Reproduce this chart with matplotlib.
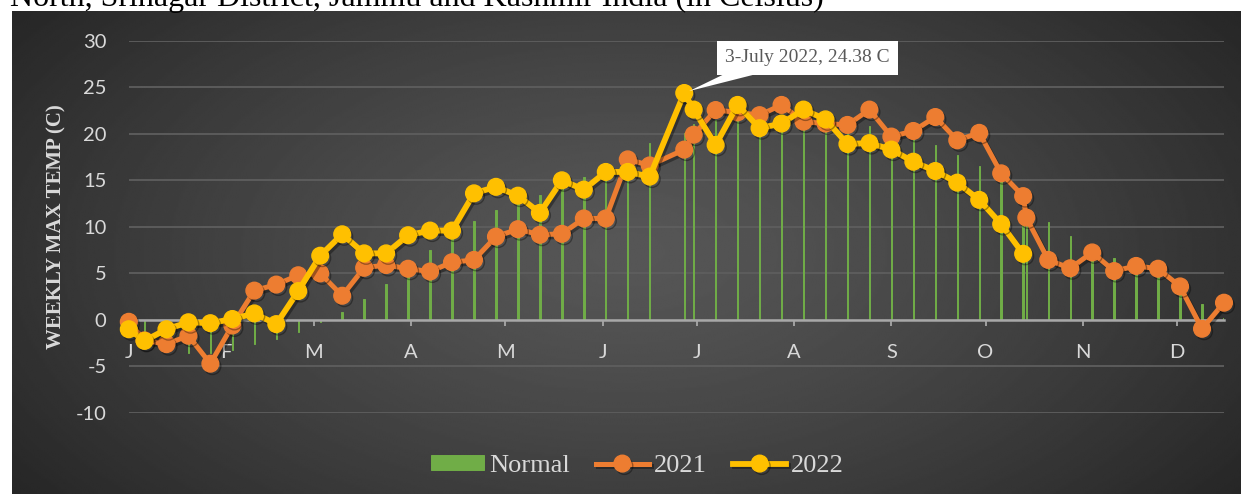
#!/usr/bin/env python3
"""Weekly max temperature, Srinagar district: 2021 and 2022 against the normal."""

from __future__ import annotations

import matplotlib
import numpy as np
import pandas as pd

matplotlib.use("Agg")
import matplotlib.dates as mdates  # noqa: E402
import matplotlib.patheffects as pe  # noqa: E402
import matplotlib.pyplot as plt  # noqa: E402
import matplotlib.transforms as mtransforms  # noqa: E402
from matplotlib.patches import Polygon  # noqa: E402
from matplotlib.ticker import FuncFormatter  # noqa: E402

# week start dates (month-day), shared by all three series
WEEK_DATES = [
    "01-01", "01-06", "01-13", "01-20", "01-27", "02-03", "02-10", "02-17", "02-24",
    "03-03", "03-10", "03-17", "03-24", "03-31", "04-07", "04-14", "04-21", "04-28",
    "05-05", "05-12", "05-19", "05-26", "06-02", "06-09", "06-16", "06-27", "06-30",
    "07-07", "07-14", "07-21", "07-28", "08-04", "08-11", "08-18", "08-25", "09-01",
    "09-08", "09-15", "09-22", "09-29", "10-06", "10-13", "10-14", "10-21", "10-28",
    "11-04", "11-11", "11-18", "11-25", "12-02", "12-09", "12-16",
]
NORMAL = [
    -1.0, -1.4, -2.5, -3.5, -3.5, -3.2, -2.6, -2.0, -1.25,
    -0.2, 0.9, 2.25, 3.9, 5.0, 7.5, 9.7, 10.6, 11.8,
    12.9, 13.4, 14.3, 15.4, 15.5, 17.0, 19.0, 20.05, 21.1,
    21.5, 22.0, 21.8, 21.5, 21.5, 21.0, 20.5, 20.8, 19.5,
    19.3, 18.8, 17.7, 16.5, 15.2, 11.0, 10.5, 10.5, 9.0,
    7.3, 6.6, 5.5, 5.0, 3.5, 1.7, 0.2,
]
MAX_2021 = [
    -0.2, -2.2, -2.6, -1.7, -4.7, -0.6, 3.15, 3.8, 4.8,
    5.0, 2.6, 5.6, 5.9, 5.5, 5.2, 6.2, 6.45, 8.95,
    9.75, 9.15, 9.25, 10.9, 10.9, 17.25, 16.6, 18.3, 19.9,
    22.55, 22.3, 22.0, 23.1, 21.3, 21.1, 20.95, 22.6, 19.7,
    20.3, 21.8, 19.3, 20.1, 15.75, 13.3, 11.0, 6.45, 5.55,
    7.25, 5.25, 5.8, 5.5, 3.6, -0.95, 1.85,
]
MAX_2022 = [
    -1.0, -2.25, -1.0, -0.25, -0.35, 0.1, 0.7, -0.45, 3.1,
    6.9, 9.2, 7.15, 7.15, 9.1, 9.6, 9.6, 13.6, 14.3,
    13.35, 11.5, 15.0, 14.0, 15.9, 15.9, 15.4, 24.38, 22.6,
    18.8, 23.1, 20.6, 21.1, 22.6, 21.55, 18.9, 19.0, 18.3,
    17.0, 16.0, 14.75, 12.9, 10.3, 7.1, None, None, None,
    None, None, None, None, None, None, None,
]
MONTH_LETTERS = ["J", "F", "M", "A", "M", "J", "J", "A", "S", "O", "N", "D"]
Y_TICKS = [-10, -5, 0, 5, 10, 15, 20, 25, 30]
PEAK_LABEL = "3-July 2022, 24.38 C"
Y_LABEL = "WEEKLY MAX TEMP (C)"
TITLE_TAIL = "North, Srinagar District, Jammu and Kashmir India (in Celsius)"

W, H = 1241, 494
TEXT = "#d9d9d9"
GREEN = "#70AD47"
SERIF = ["Liberation Serif", "DejaVu Serif"]


def _background(fig: plt.Figure) -> None:
    # dark chart area, lighter towards the middle
    left, top = 12 / W, 1 - 11 / H
    bg = fig.add_axes([left, 0, 1 - left, top], zorder=-10)
    bg.set_axis_off()
    yy, xx = np.mgrid[0:1:250j, 0:1:620j]
    r = np.sqrt(((xx - 0.5) / 0.62) ** 2 + ((yy - 0.5) / 0.85) ** 2)
    shade = 0.34 - 0.19 * np.clip(r, 0, 1) ** 1.3
    bg.imshow(shade, cmap="gray", vmin=0, vmax=1, aspect="auto",
              extent=(0, 1, 0, 1), interpolation="bilinear")


def _callout(ax: plt.Axes, x, y, text: str) -> None:
    # white label box with a pointer down to the point, offsets in points
    fig = ax.figure
    anchor = fig.dpi_scale_trans + mtransforms.ScaledTranslation(
        mdates.date2num(x), y, ax.transData)
    pointer = np.array([[3.6, 1.4], [42.0, 20.0], [77.0, 20.0]]) / 72
    ax.add_patch(Polygon(pointer, closed=True, transform=anchor, fc="white",
                         ec="none", zorder=5.6, clip_on=False))
    ax.annotate(text, xy=(x, y), xytext=(88.4, 25.3), textcoords="offset points",
                ha="center", va="center", family=SERIF, size=14, color="#595959",
                zorder=6, bbox=dict(boxstyle="square,pad=0.42", fc="white", ec="none"))


def main() -> None:
    plt.rcParams["font.family"] = ["Lato", "DejaVu Sans"]
    plt.rcParams["axes.unicode_minus"] = False

    dates = pd.to_datetime(["2021-" + d for d in WEEK_DATES])
    y2022 = np.array([np.nan if v is None else v for v in MAX_2022], dtype=float)

    fig = plt.figure(figsize=(W / 100, H / 100), dpi=100, facecolor="white")
    _background(fig)
    # only the last line of the caption shows above the chart in the source
    fig.text(10 / W, 1 - 6 / H, TITLE_TAIL, family=SERIF, size=23,
             color="black", ha="left", va="baseline")

    ax = fig.add_axes([128.8 / W, 81 / H, (1224 - 128.8) / W, (413 - 40.7) / H])
    ax.patch.set_alpha(0)

    bars = ax.bar(dates, NORMAL, width=0.45, color=GREEN, ec=GREEN, lw=0.7,
                  zorder=2, label="Normal")
    shadow = [pe.SimpleLineShadow(offset=(1.5, -1.8), shadow_color="black", alpha=0.35),
              pe.Normal()]
    l21, = ax.plot(dates, MAX_2021, color="#ED7D31", lw=3.6, marker="o", ms=12,
                   zorder=4, clip_on=False, path_effects=shadow, label="2021")
    l22, = ax.plot(dates, y2022, color="#FFC000", lw=4.2, marker="o", ms=12,
                   zorder=5, clip_on=False, path_effects=shadow, label="2022")

    ax.set_xlim(dates[0], dates[-1])
    ax.set_ylim(Y_TICKS[0], Y_TICKS[-1])
    ax.set_yticks(Y_TICKS)
    ax.yaxis.grid(True, color="#5e5e5e", lw=1.3)
    ax.set_axisbelow(True)

    for side in ("top", "right", "left"):
        ax.spines[side].set_visible(False)
    ax.spines["bottom"].set_position(("data", 0))
    ax.spines["bottom"].set_color("#a8a8a8")
    ax.spines["bottom"].set_linewidth(1.8)
    ax.spines["bottom"].set_zorder(3)

    ax.xaxis.set_major_locator(mdates.MonthLocator())
    ax.xaxis.set_major_formatter(
        FuncFormatter(lambda v, _: MONTH_LETTERS[mdates.num2date(v).month - 1]))
    ax.tick_params(axis="x", direction="out", length=4, width=1.3, color="#a8a8a8",
                   pad=13, labelsize=14.5, labelcolor=TEXT)
    ax.tick_params(axis="y", length=0, pad=16, labelsize=14.5, labelcolor=TEXT)

    ax.set_ylabel(Y_LABEL, family=SERIF, weight="bold", size=15, color=TEXT, va="center")
    ax.yaxis.set_label_coords(-0.0656, 0.5)

    peak = int(np.nanargmax(y2022))
    _callout(ax, dates[peak], y2022[peak], PEAK_LABEL)

    ax.legend([bars, l21, l22], ["Normal", "2021", "2022"], loc="center",
              bbox_to_anchor=(637.5 / W, 28 / H), bbox_transform=fig.transFigure,
              ncol=3, frameon=False, prop={"family": SERIF, "size": 19},
              labelcolor=TEXT, handlelength=2.0, handleheight=0.5,
              handletextpad=0.2, columnspacing=1.0)

    fig.savefig("out.png", dpi=100, facecolor="white")


if __name__ == "__main__":
    main()
